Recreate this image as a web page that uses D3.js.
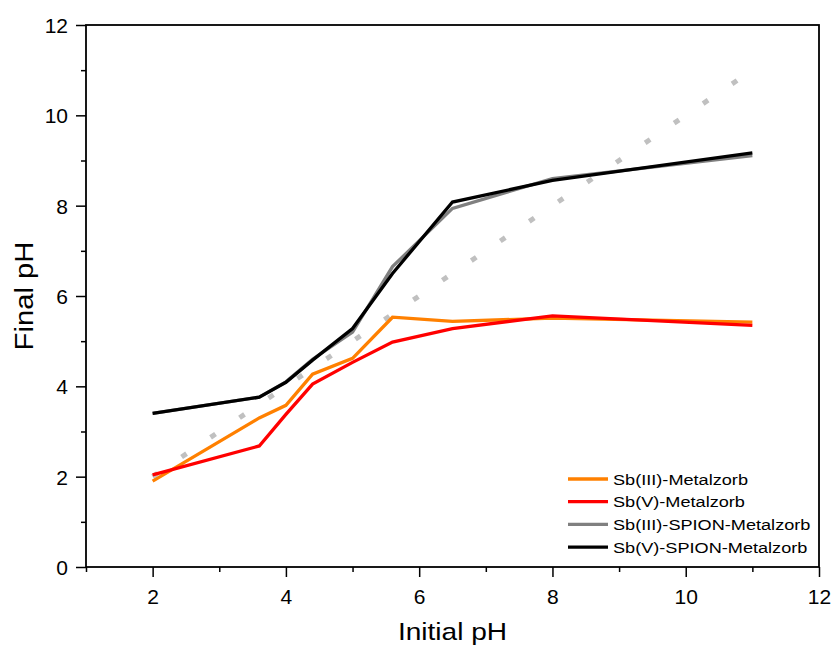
<!DOCTYPE html>
<html>
<head>
<meta charset="utf-8">
<script src="https://cdn.jsdelivr.net/npm/d3@7"></script>
<style>
  body { margin: 0; background: #fff; }
  text { font-family: Arial, "Liberation Sans", sans-serif; }
</style>
</head>
<body>
<div id="chart"></div>
<script>
// data
const initialPH = [2, 3.6, 4, 4.4, 5, 5.6, 6.5, 8, 11];
const sb3Metalzorb = [1.90, 3.30, 3.58, 4.27, 4.62, 5.53, 5.44, 5.51, 5.42];
const sb5Metalzorb = [2.04, 2.68, 3.38, 4.05, 4.53, 4.98, 5.28, 5.56, 5.35];
const sb3Spion = [3.40, 3.76, 4.10, 4.60, 5.20, 6.65, 7.94, 8.60, 9.11];
const sb5Spion = [3.40, 3.76, 4.09, 4.58, 5.28, 6.50, 8.08, 8.56, 9.17];
const refLine = [2, 11];

const seriesNames = ["Sb(III)-Metalzorb", "Sb(V)-Metalzorb", "Sb(III)-SPION-Metalzorb", "Sb(V)-SPION-Metalzorb"];
const seriesColors = ["#ff8000", "#ff0000", "#808080", "#000000"];
const seriesValues = [sb3Metalzorb, sb5Metalzorb, sb3Spion, sb5Spion];

const xTicks = [2, 4, 6, 8, 10, 12];
const yTicks = [0, 2, 4, 6, 8, 10, 12];

const width = 834, height = 652;
const margin = {top: 25, right: 15, bottom: 85, left: 86};
const stretch = 1.17; // the original text is drawn a bit wide

const svg = d3.select('#chart').append('svg')
    .attr('width', width)
    .attr('height', height);

const x = d3.scaleLinear().domain([1, 12]).range([margin.left, width - margin.right]);
const y = d3.scaleLinear().domain([0, 12]).range([height - margin.bottom, margin.top]);

// 1:1 reference line
svg.append('line')
    .attr('x1', x(refLine[0])).attr('y1', y(refLine[0]))
    .attr('x2', x(refLine[1])).attr('y2', y(refLine[1]))
    .attr('stroke', '#c0c0c0')
    .attr('stroke-width', 5)
    .attr('stroke-dasharray', '6,29');

// series
const line = d3.line()
    .x((d, i) => x(initialPH[i]))
    .y(d => y(d));

svg.append('g')
    .selectAll('path')
    .data(seriesValues)
    .enter()
    .append('path')
    .attr('d', d => line(d))
    .attr('fill', 'none')
    .attr('stroke', (d, i) => seriesColors[i])
    .attr('stroke-width', 3.3)
    .attr('stroke-linejoin', 'miter');

// axes
const xAxis = d3.axisBottom(x)
    .tickValues(d3.range(1, 12.5, 1))
    .tickSize(0)
    .tickFormat(d => xTicks.includes(d) ? d : '');
const gx = svg.append('g')
    .attr('transform', `translate(0, ${y(0)})`)
    .call(xAxis);
gx.selectAll('.tick line')
    .attr('y2', d => xTicks.includes(d) ? 10 : 5)
    .attr('stroke-width', 1.5);
gx.selectAll('.tick text').attr('dy', 0).attr('y', 37).style('font-size', '21px').attr('fill', '#000');

const yAxis = d3.axisLeft(y)
    .tickValues(d3.range(0, 12.5, 1))
    .tickSize(0)
    .tickFormat(d => yTicks.includes(d) ? d : '');
const gy = svg.append('g')
    .attr('transform', `translate(${x(1)}, 0)`)
    .call(yAxis);
gy.selectAll('.tick line')
    .attr('x2', d => yTicks.includes(d) ? -10 : -5)
    .attr('stroke-width', 1.5);
gy.selectAll('.tick text').attr('x', -18).attr('dy', '0.36em').style('font-size', '21px').attr('fill', '#000');

svg.selectAll('.domain').remove();

// frame
svg.append('rect')
    .attr('x', x(1)).attr('y', y(12))
    .attr('width', x(12) - x(1))
    .attr('height', y(0) - y(12))
    .attr('fill', 'none')
    .attr('stroke', '#000')
    .attr('stroke-width', 1.8);

// axis titles
svg.append('text')
    .attr('transform', `translate(${(x(1) + x(12)) / 2}, 640) scale(${stretch}, 1)`)
    .attr('text-anchor', 'middle')
    .style('font-size', '24px')
    .text('Initial pH');

svg.append('text')
    .attr('transform', `translate(33, ${(y(0) + y(12)) / 2}) rotate(-90) scale(${stretch}, 1)`)
    .attr('text-anchor', 'middle')
    .style('font-size', '25px')
    .text('Final pH');

// legend
const legend = svg.append('g')
    .selectAll('g')
    .data(seriesNames)
    .enter()
    .append('g')
    .attr('transform', (d, i) => `translate(568, ${479 + i * 22.7})`);
legend.append('line')
    .attr('x1', 0).attr('x2', 40)
    .attr('stroke', (d, i) => seriesColors[i])
    .attr('stroke-width', 3.3);
legend.append('text')
    .attr('transform', `translate(45, 0) scale(${stretch}, 1)`)
    .attr('dy', '0.36em')
    .style('font-size', '15.5px')
    .text(d => d);
</script>
</body>
</html>
